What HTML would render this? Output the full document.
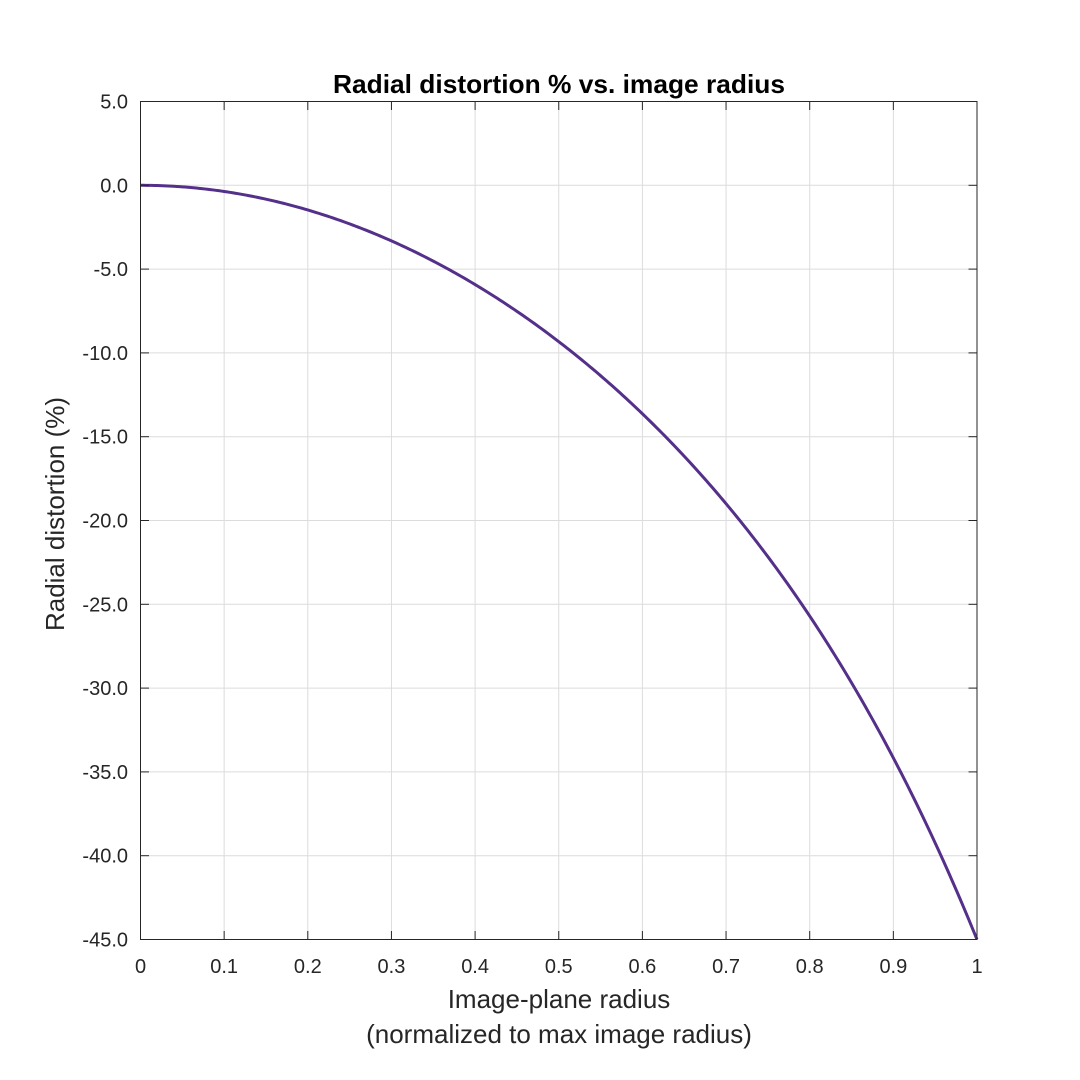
<!DOCTYPE html>
<html><head><style>body{margin:0;background:#fff}svg{display:block}</style></head>
<body>
<svg id="s" width="1080" height="1080" xmlns="http://www.w3.org/2000/svg" font-family="Liberation Sans, Arial, sans-serif">
<rect width="1080" height="1080" fill="#fff"/>
<g id="grid" stroke="#dcdcdc" stroke-width="1"></g>
<path id="curve" fill="none" stroke="#54308a" stroke-width="3"/>
<rect x="140.5" y="101.5" width="836.5" height="838" fill="none" stroke="#262626" stroke-width="1"/>
<g id="ticks" stroke="#262626" stroke-width="1"></g>
<g id="lbl" fill="#262626" font-size="20"></g>
<text x="559" y="93" text-anchor="middle" font-size="26" font-weight="bold" fill="#000" textLength="452" lengthAdjust="spacingAndGlyphs">Radial distortion % vs. image radius</text>
<text x="559" y="1008" text-anchor="middle" font-size="26" fill="#262626">Image-plane radius</text>
<text x="559" y="1043" text-anchor="middle" font-size="26" fill="#262626">(normalized to max image radius)</text>
<text transform="translate(64,514) rotate(-90)" text-anchor="middle" font-size="26" fill="#262626">Radial distortion (%)</text>
</svg>
<script>
var ns="http://www.w3.org/2000/svg";
function X(r){return 140.5+r*836.5}
function Y(v){return 185.3-v*16.76}
function el(p,t,a,txt){var e=document.createElementNS(ns,t);for(var k in a)e.setAttribute(k,a[k]);if(txt!=null)e.textContent=txt;document.getElementById(p).appendChild(e)}
for(var i=0;i<=10;i++){var x=X(i/10);
 el("grid","line",{x1:x,x2:x,y1:101.5,y2:939.5});
 el("ticks","line",{x1:x,x2:x,y1:939.5,y2:931});el("ticks","line",{x1:x,x2:x,y1:101.5,y2:110});
 el("lbl","text",{x:x,y:973,"text-anchor":"middle"},i==0?"0":i==10?"1":(i/10).toFixed(1));}
for(var j=0;j<=10;j++){var v=5-5*j,y=Y(v);
 el("grid","line",{x1:140.5,x2:977,y1:y,y2:y});
 el("ticks","line",{x1:140.5,x2:149,y1:y,y2:y});el("ticks","line",{x1:977,x2:968.5,y1:y,y2:y});
 el("lbl","text",{x:128,y:y+7,"text-anchor":"end"},v.toFixed(1));}
var d="";for(var k=0;k<=300;k++){var r=k/300,v=-36.8*r*r-8.2*Math.pow(r,6);d+=(k?"L":"M")+X(r).toFixed(2)+","+Y(v).toFixed(2);}
document.getElementById("curve").setAttribute("d",d);
</script>
</body></html>
